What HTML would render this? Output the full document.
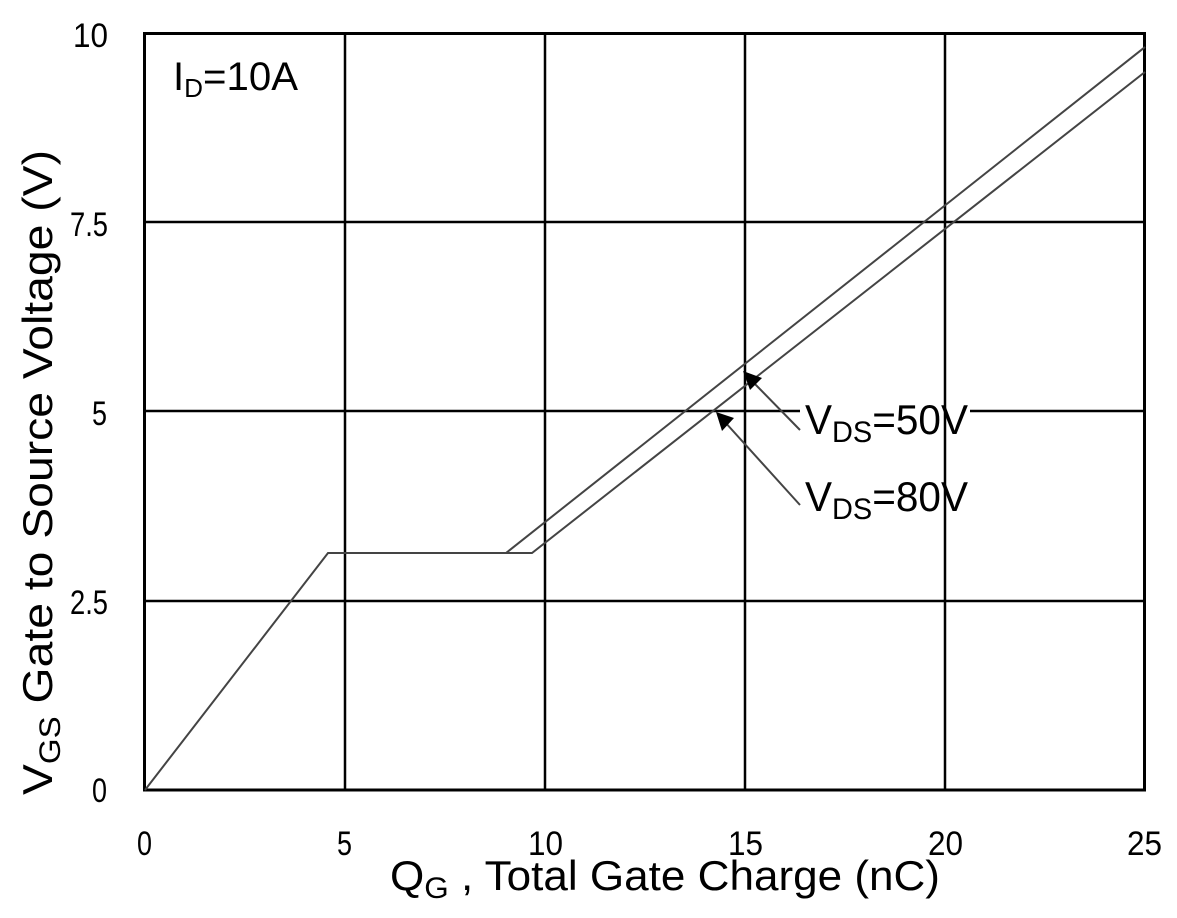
<!DOCTYPE html>
<html><head><style>body{margin:0;background:#fff}svg{display:block}text{font-family:"Liberation Sans",sans-serif;fill:#000}</style></head>
<body>
<svg width="1177" height="918" viewBox="0 0 1177 918">
<g stroke="#000" stroke-width="2.5">
<line x1="345" y1="33" x2="345" y2="790"/><line x1="545" y1="33" x2="545" y2="790"/>
<line x1="745" y1="33" x2="745" y2="790"/><line x1="945" y1="33" x2="945" y2="790"/>
<line x1="145" y1="222" x2="1145" y2="222"/><line x1="145" y1="411" x2="800" y2="411"/><line x1="970" y1="411" x2="1145" y2="411"/>
<line x1="145" y1="601" x2="1145" y2="601"/>
</g>
<rect x="144.5" y="33.5" width="1000" height="756.5" fill="none" stroke="#000" stroke-width="3"/>
<g fill="none" stroke="#444" stroke-width="2">
<polyline points="145,790 328,553 532,553 1145,72"/>
<polyline points="506,553 1145,47"/>
<line x1="800" y1="430" x2="752" y2="381"/>
<line x1="800" y1="505" x2="724" y2="421"/>
</g>
<polygon points="743,371 762,378 750,390" fill="#000"/>
<polygon points="716,412 734,418 722,431" fill="#000"/>
<g font-size="34">
<text x="73" y="47" textLength="35" lengthAdjust="spacingAndGlyphs">10</text>
<text x="70" y="236" textLength="38" lengthAdjust="spacingAndGlyphs">7.5</text>
<text x="92" y="425" textLength="15" lengthAdjust="spacingAndGlyphs">5</text>
<text x="70" y="614" textLength="38" lengthAdjust="spacingAndGlyphs">2.5</text>
<text x="92" y="802" textLength="15" lengthAdjust="spacingAndGlyphs">0</text>
<text x="137" y="855" textLength="15" lengthAdjust="spacingAndGlyphs">0</text>
<text x="337" y="855" textLength="15" lengthAdjust="spacingAndGlyphs">5</text>
<text x="528" y="855" textLength="35" lengthAdjust="spacingAndGlyphs">10</text>
<text x="728" y="855" textLength="35" lengthAdjust="spacingAndGlyphs">15</text>
<text x="928" y="855" textLength="35" lengthAdjust="spacingAndGlyphs">20</text>
<text x="1127" y="855" textLength="35" lengthAdjust="spacingAndGlyphs">25</text>
</g>
<text x="173" y="90" font-size="40" textLength="125" lengthAdjust="spacingAndGlyphs">I<tspan font-size="26" dy="7">D</tspan><tspan dy="-7">=10A</tspan></text>
<text x="805" y="434" font-size="42" textLength="163" lengthAdjust="spacingAndGlyphs">V<tspan font-size="30" dy="8">DS</tspan><tspan dy="-8">=50V</tspan></text>
<text x="805" y="511" font-size="42" textLength="163" lengthAdjust="spacingAndGlyphs">V<tspan font-size="30" dy="8">DS</tspan><tspan dy="-8">=80V</tspan></text>
<text x="390" y="890" font-size="42" textLength="550" lengthAdjust="spacingAndGlyphs">Q<tspan font-size="30" dy="8">G</tspan><tspan dy="-8"> , Total Gate Charge (nC)</tspan></text>
<text transform="translate(52,795) rotate(-90)" font-size="42" textLength="645" lengthAdjust="spacingAndGlyphs">V<tspan font-size="30" dy="8">GS</tspan><tspan dy="-8">   Gate to Source Voltage (V)</tspan></text>
</svg>
</body></html>
